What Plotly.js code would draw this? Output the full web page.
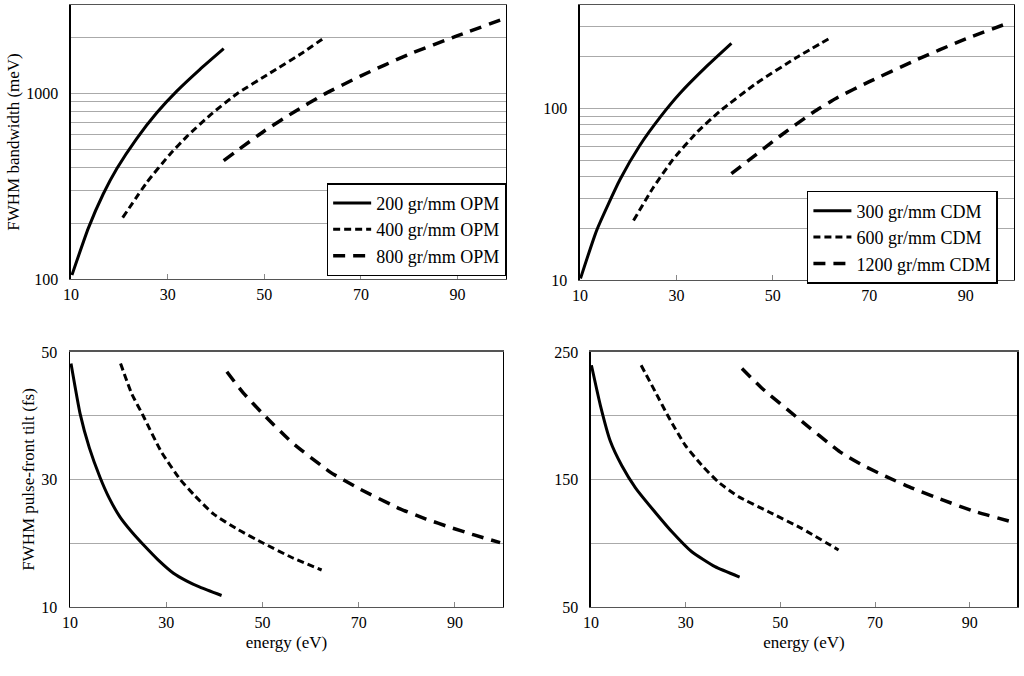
<!DOCTYPE html>
<html>
<head>
<meta charset="utf-8">
<script src="https://cdn.plot.ly/plotly-3.0.1.min.js"></script>
<style>
  html, body { margin: 0; padding: 0; background: #fff; }
  #chart { width: 1024px; height: 676px; }
</style>
</head>
<body>
<div id="chart"></div>
<script>
// bandwidth (meV), off-plane mount (top left)
let opm200_e = [10.2, 13.6, 16.7, 19.5, 23.6, 27.8, 31.9, 36.7, 41.6];
let opm200_bw = [105, 188, 288, 394, 572, 790, 1030, 1350, 1745];
let opm400_e = [20.7, 25.7, 30.5, 34.0, 38.8, 44.3, 51.2, 58.1, 62.3];
let opm400_bw = [214, 332, 471, 587, 765, 995, 1290, 1670, 1990];
let opm800_e = [41.6, 50, 56, 62.3, 70, 80, 90, 99.8];
let opm800_bw = [435, 628, 790, 988, 1245, 1630, 2050, 2540];

// bandwidth (meV), classical diffraction mount (top right)
let cdm300_e = [10.1, 13.5, 18.3, 22.4, 26.6, 30.7, 36.3, 41.4];
let cdm300_bw = [10.2, 19.6, 38.5, 60.8, 88.6, 122, 176, 239];
let cdm600_e = [21.1, 25.2, 29.3, 34.2, 39.0, 46.6, 54.9, 62.2];
let cdm600_bw = [22.2, 34.6, 50.4, 72.3, 96.2, 140, 197.6, 260];
let cdm1200_e = [41.4, 51.5, 58.4, 63.5, 70, 79.1, 90, 99.1];
let cdm1200_bw = [41.6, 69, 95, 116, 143, 188, 254, 316];

// pulse-front tilt (fs), OPM (bottom left)
let tilt200_e = [10.2, 12.1, 14, 16.2, 18.2, 20.4, 22.8, 25.2, 28.3, 31.5, 34.2, 37, 41.5];
let tilt200_fs = [48.2, 40.3, 35, 30.4, 27, 24.1, 21.8, 19.8, 17.4, 15.3, 14.1, 13.1, 11.8];
let tilt400_e = [20.5, 22.8, 25.2, 29, 32.9, 36, 39.8, 45, 50.2, 56, 62.3];
let tilt400_fs = [48.2, 43.5, 40, 34.3, 30, 27.4, 24.6, 22.1, 20, 17.8, 15.8];
let tilt800_e = [42.6, 46, 50.2, 56, 64, 70, 78.6, 84, 89, 94, 99.4];
let tilt800_fs = [46.9, 43.6, 40.2, 35.9, 31.2, 28.6, 25.4, 23.8, 22.5, 21.3, 20.1];

// pulse-front tilt (fs), CDM (bottom right)
let tilt300_e = [10.1, 12.0, 14.1, 16.5, 19.4, 22.9, 27.1, 31.3, 36.2, 41.4];
let tilt300_fs = [239.6, 208, 180, 161, 143.5, 127.3, 109, 93.3, 81.6, 73.5];
let tilt600_e = [20.6, 23.6, 26.4, 29.9, 33.4, 36.9, 41.2, 47.5, 54.5, 62.3];
let tilt600_fs = [239.6, 218.7, 199, 176.9, 161.2, 148, 136.5, 124.7, 111.6, 94.7];
let tilt1200_e = [41.9, 46, 53.8, 62.6, 67.5, 72.5, 78, 84.4, 91, 98.9];
let tilt1200_fs = [237, 222, 197.8, 171.7, 161, 152, 143, 133.8, 125, 116.8];

let labels = ['200 gr/mm OPM', '400 gr/mm OPM', '800 gr/mm OPM',
              '300 gr/mm CDM', '600 gr/mm CDM', '1200 gr/mm CDM'];

let solid = { color: 'black', width: 3, dash: 'solid' };
let shortDash = { color: 'black', width: 3, dash: '7px,4px' };
let longDash = { color: 'black', width: 3.5, dash: '12px,8px' };

function line(x, y, style, xa, ya, name, legend, group) {
    return {
        type: 'scatter', mode: 'lines',
        x: x, y: y,
        xaxis: xa, yaxis: ya,
        line: Object.assign({ shape: 'spline', smoothing: 0.5 }, style),
        name: name || '',
        showlegend: !!name,
        legend: legend || 'legend',
        legendgroup: group || '',
        hoverinfo: 'skip',
    };
}

let data = [
    line(opm200_e, opm200_bw, solid, 'x', 'y', labels[0], 'legend', 'a'),
    line(opm400_e, opm400_bw, shortDash, 'x', 'y', labels[1], 'legend', 'b'),
    line(opm800_e, opm800_bw, longDash, 'x', 'y', labels[2], 'legend', 'c'),
    line(cdm300_e, cdm300_bw, solid, 'x2', 'y2', labels[3], 'legend2', 'd'),
    line(cdm600_e, cdm600_bw, shortDash, 'x2', 'y2', labels[4], 'legend2', 'e'),
    line(cdm1200_e, cdm1200_bw, longDash, 'x2', 'y2', labels[5], 'legend2', 'f'),
    line(tilt200_e, tilt200_fs, solid, 'x3', 'y3'),
    line(tilt400_e, tilt400_fs, shortDash, 'x3', 'y3'),
    line(tilt800_e, tilt800_fs, longDash, 'x3', 'y3'),
    line(tilt300_e, tilt300_fs, solid, 'x4', 'y4'),
    line(tilt600_e, tilt600_fs, shortDash, 'x4', 'y4'),
    line(tilt1200_e, tilt1200_fs, longDash, 'x4', 'y4'),
];

let serifFamily = '"Liberation Serif", "DejaVu Serif", serif';
let tickFont = { family: serifFamily, size: 16, color: 'black' };
let titleFont = { family: serifFamily, size: 17, color: 'black' };
let legendFont = { family: serifFamily, size: 18, color: 'black' };

function xaxis(dom, anchor, title) {
    return {
        domain: dom, anchor: anchor, range: [10, 100],
        tickvals: [10, 30, 50, 70, 90],
        ticks: 'inside', ticklen: 5, tickcolor: '#888',
        showgrid: false, zeroline: false,
        showline: true, linecolor: '#555', linewidth: 1.5, mirror: true,
        tickfont: tickFont,
        title: title ? { text: title, font: titleFont, standoff: 6 } : undefined,
    };
}

function yaxis(dom, anchor, type, range, vals, shown, title) {
    return {
        domain: dom, anchor: anchor, type: type, range: range,
        tickvals: vals,
        ticktext: vals.map(v => shown.indexOf(v) >= 0 ? String(v) : ''),
        ticks: 'outside', ticklen: 8, tickcolor: 'rgba(0,0,0,0)',
        showgrid: true, gridcolor: '#aaa', gridwidth: 1,
        zeroline: false,
        showline: true, linecolor: 'black', linewidth: 1.5, mirror: true,
        tickfont: tickFont,
        title: title ? { text: title, font: titleFont, standoff: 2 } : undefined,
    };
}

let bwVals1 = [100, 200, 300, 400, 500, 600, 700, 800, 900, 1000, 2000, 3000];
let bwVals2 = [10, 20, 30, 40, 50, 60, 70, 80, 90, 100, 200, 300, 400];

let legendStyle = {
    font: legendFont, bgcolor: 'white', bordercolor: 'black', borderwidth: 1.5,
    xanchor: 'left', yanchor: 'top', tracegroupgap: 0,
    traceorder: 'grouped', itemwidth: 38,
};

let layout = {
    width: 1024, height: 676,
    margin: { l: 0, r: 0, t: 0, b: 0 },
    paper_bgcolor: 'white', plot_bgcolor: 'white',
    font: tickFont,
    xaxis: xaxis([0.0693, 0.4941], 'y'),
    yaxis: yaxis([0.5873, 0.9926], 'x', 'log', [2, Math.log10(3000)], bwVals1, [100, 1000],
                 'FWHM bandwidth (meV)'),
    xaxis2: xaxis([0.5664, 0.9902], 'y2'),
    yaxis2: yaxis([0.5858, 0.9926], 'x2', 'log', [1, Math.log10(400)], bwVals2, [10, 100]),
    xaxis3: xaxis([0.0684, 0.4912], 'y3', 'energy (eV)'),
    yaxis3: yaxis([0.1021, 0.4793], 'x3', 'linear', [10, 50], [10, 20, 30, 40, 50], [10, 30, 50],
                  'FWHM pulse-front tilt (fs)'),
    xaxis4: xaxis([0.5771, 0.9932], 'y4', 'energy (eV)'),
    yaxis4: yaxis([0.1021, 0.4793], 'x4', 'linear', [50, 250], [50, 100, 150, 200, 250], [50, 150, 250]),
    legend: Object.assign({ x: 0.319, y: 0.729 }, legendStyle),
    legend2: Object.assign({ x: 0.788, y: 0.7175 }, legendStyle),
    showlegend: true,
};

Plotly.newPlot('chart', data, layout, { staticPlot: true });
</script>
</body>
</html>
